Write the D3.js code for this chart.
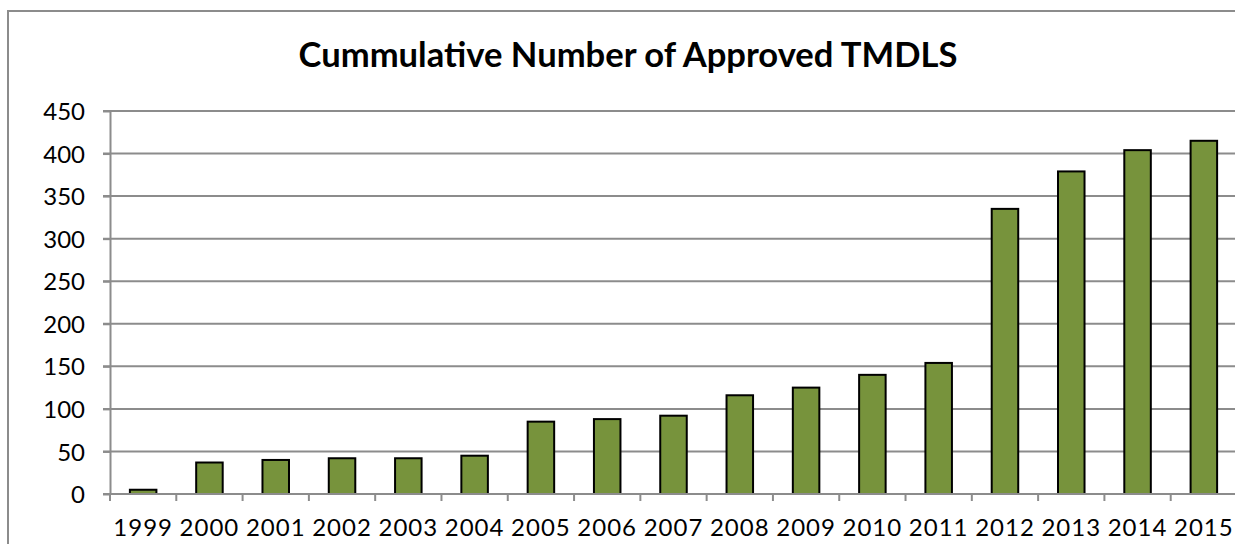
<!DOCTYPE html>
<meta charset="utf-8">
<style>
body { margin: 0; background: #fff; }
text { font-family: Lato, "Open Sans", sans-serif; fill: #000; }
.grid line { stroke: #8c8c8c; stroke-width: 2; }
.axis path, .axis line { stroke: #8c8c8c; stroke-width: 2; }
.axis text { font-size: 24px; }
.xlabel { letter-spacing: 1px; }
.bar { fill: #77933c; stroke: #000; stroke-width: 2; }
</style>
<svg width="1235" height="544"></svg>
<script src="https://cdn.jsdelivr.net/npm/d3@7"></script>
<script>

var years = ["1999", "2000", "2001", "2002", "2003", "2004", "2005", "2006", "2007",
             "2008", "2009", "2010", "2011", "2012", "2013", "2014", "2015"];
var approved = [5, 37, 40, 42, 42, 45, 85, 88, 92, 116, 125, 140, 154, 335, 379, 404, 415];
var yTicks = [0, 50, 100, 150, 200, 250, 300, 350, 400, 450];
var title = "Cummulative Number of Approved TMDLS";

var svg = d3.select("svg");

// outer chart border (runs off the right and bottom of the picture)
svg.append("rect")
    .attr("x", 8).attr("y", 11)
    .attr("width", 1260).attr("height", 560)
    .attr("fill", "#fff")
    .attr("stroke", "#8c8c8c")
    .attr("stroke-width", 2);

var plotLeft = 110, plotRight = 1237, plotTop = 111, plotBottom = 494;

var x = d3.scaleBand()
    .domain(years)
    .range([plotLeft, plotRight])
    .paddingInner(0.6)
    .paddingOuter(0.3);

var y = d3.scaleLinear()
    .domain([0, 450])
    .range([plotBottom, plotTop]);

// gridlines
svg.append("g")
    .attr("class", "grid")
    .selectAll("line")
    .data(yTicks)
    .enter().append("line")
    .attr("x1", plotLeft - 7)
    .attr("x2", plotRight)
    .attr("y1", function(d) { return y(d); })
    .attr("y2", function(d) { return y(d); });

// y axis
var yAxis = svg.append("g")
    .attr("class", "axis")
    .attr("transform", "translate(" + plotLeft + ",0)")
    .call(d3.axisLeft(y).tickValues(yTicks).tickSize(7).tickPadding(18).tickSizeOuter(0));
yAxis.selectAll("text").attr("dy", "0.36em");

// bars
svg.selectAll(".bar")
    .data(approved)
    .enter().append("rect")
    .attr("class", "bar")
    .attr("x", function(d, i) { return x(years[i]); })
    .attr("width", x.bandwidth())
    .attr("y", function(d) { return y(d); })
    .attr("height", function(d) { return y(0) - y(d); });

// x axis: ticks sit between categories
var step = x.step();
var xAxis = svg.append("g")
    .attr("class", "axis")
    .attr("transform", "translate(0," + plotBottom + ")");
xAxis.append("line")
    .attr("x1", plotLeft).attr("x2", plotRight);
xAxis.selectAll(".tick")
    .data(d3.range(years.length + 1))
    .enter().append("line")
    .attr("x1", function(i) { return plotLeft + i * step; })
    .attr("x2", function(i) { return plotLeft + i * step; })
    .attr("y1", 0).attr("y2", 7);
xAxis.selectAll("text")
    .data(years)
    .enter().append("text")
    .attr("class", "xlabel")
    .attr("x", function(d) { return x(d) + x.bandwidth() / 2; })
    .attr("y", 42)
    .attr("text-anchor", "middle")
    .text(function(d) { return d; });

svg.append("text")
    .attr("x", 628)
    .attr("y", 67)
    .attr("text-anchor", "middle")
    .style("font-size", "34.6px")
    .style("font-weight", "bold")
    .text(title);

</script>
